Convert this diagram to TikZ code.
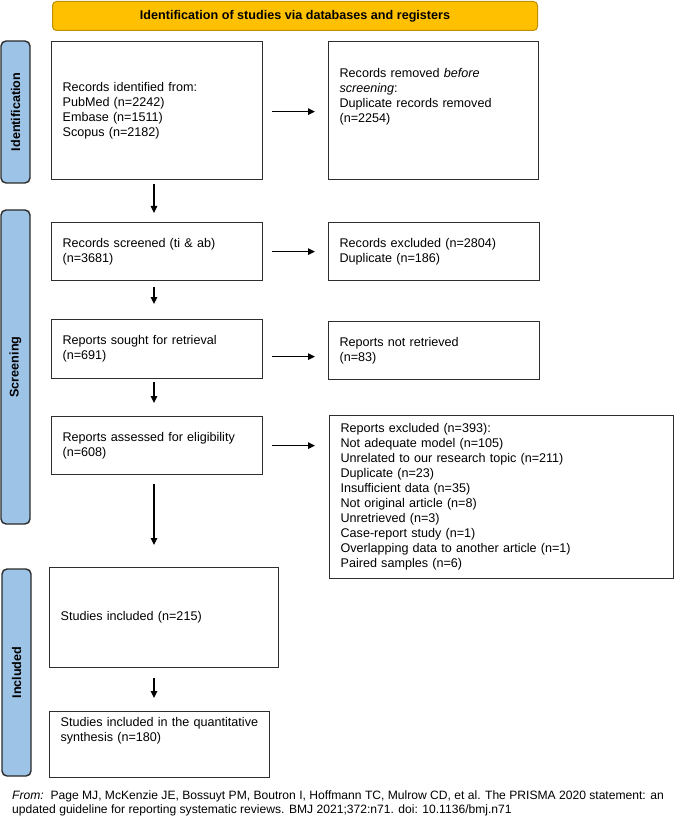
\documentclass[tikz,border=0pt]{standalone}
\usepackage{fontspec}
\setmainfont{Liberation Sans}
\usetikzlibrary{arrows.meta}
\definecolor{titlefill}{HTML}{FFC000}
\definecolor{titledraw}{HTML}{BF9000}
\definecolor{barfill}{HTML}{9DC3E6}
\definecolor{bardraw}{HTML}{2B2B2B}
\definecolor{boxdraw}{HTML}{2E2E2E}
\tikzset{
  boxtext/.style={font=\fontsize{12.6}{15}\selectfont},
  flowbox/.style={boxtext, draw=boxdraw, line width=1.2pt, anchor=north west,
    align=left, inner xsep=11pt, inner ysep=2pt},
  sidebar/.style={draw=bardraw, fill=barfill, line width=1.4pt, rounded corners=5pt,
    rotate=90, font=\bfseries\fontsize{12.6}{15}\selectfont, inner sep=0pt},
  arr/.style={line width=1.3pt, -{Triangle[length=7pt,width=6.5pt]}},
}
\begin{document}
\begin{tikzpicture}[x=1pt,y=-1pt]
\useasboundingbox (0,0) rectangle (696,834);
\fill[white] (0,0) rectangle (696,834);

% title bar
\node[draw=titledraw, fill=titlefill, line width=1pt, rounded corners=4pt,
  minimum width=485pt, minimum height=29pt, anchor=north west,
  font=\bfseries\fontsize{12.6}{15}\selectfont] (title) at (52,1)
  {Identification of studies via databases and registers};

% side bars
\node[sidebar, minimum width=142pt, minimum height=29pt] (idbar) at (15.5,112) {Identification};
\node[sidebar, minimum width=314pt, minimum height=29pt] (scrbar) at (15.5,367) {Screening};
\node[sidebar, minimum width=207pt, minimum height=29pt] (incbar) at (16.5,672.5) {Included};

% boxes
\node[flowbox, text width=189pt, minimum height=138pt] (b1) at (51,41)
  {Records identified from:\\PubMed (n=2242)\\Embase (n=1511)\\Scopus (n=2182)};
\node[flowbox, text width=188pt, minimum height=138pt] (b2) at (328,41)
  {Records removed \textit{before}\\\textit{screening}:\\Duplicate records removed\\(n=2254)\\\mbox{}\\\mbox{}};
\node[flowbox, text width=189pt, minimum height=58pt] (b3) at (51,222)
  {Records screened (ti \& ab)\\(n=3681)};
\node[flowbox, text width=189pt, minimum height=58pt] (b4) at (328,222)
  {Records excluded (n=2804)\\Duplicate (n=186)};
\node[flowbox, text width=189pt, minimum height=59pt] (b5) at (51,319)
  {Reports sought for retrieval\\(n=691)};
\node[flowbox, text width=189pt, minimum height=58pt] (b6) at (328,321)
  {Reports not retrieved\\(n=83)};
\node[flowbox, text width=189pt, minimum height=58pt] (b7) at (51,416)
  {Reports assessed for eligibility\\(n=608)};
\node[flowbox, text width=322pt, minimum height=163pt] (b8) at (329,415)
  {Reports excluded (n=393):\\Not adequate model (n=105)\\Unrelated to our research topic (n=211)\\Duplicate (n=23)\\Insufficient data (n=35)\\Not original article (n=8)\\Unretrieved (n=3)\\Case-report study (n=1)\\Overlapping data to another article (n=1)\\Paired samples (n=6)};
\node[flowbox, text width=207pt, minimum height=100pt] (b9) at (49,567)
  {Studies included (n=215)};
\node[flowbox, text width=198pt, minimum height=66pt] (b10) at (49,711)
  {Studies included in the quantitative\\synthesis (n=180)\\\mbox{}\\\mbox{}};

% vertical arrows
\coordinate (col) at (154,0);
\draw[arr, shorten <=4pt, shorten >=9pt] (b1.south -| col) -- (b3.north -| col);
\draw[arr, shorten <=6pt, shorten >=15pt] (b3.south -| col) -- (b5.north -| col);
\draw[arr, shorten <=3pt, shorten >=13pt] (b5.south -| col) -- (b7.north -| col);
\draw[arr, shorten <=9pt, shorten >=22pt] (b7.south -| col) -- (b9.north -| col);
\draw[arr, shorten <=10pt, shorten >=13pt] (b9.south -| col) -- (b10.north -| col);

% horizontal arrows
\draw[arr, shorten <=9pt, shorten >=13pt] ([yshift=-1pt]b1.east) -- ([yshift=-1pt]b1.east -| b2.west);
\draw[arr, shorten <=9pt, shorten >=13pt] (b3.east) -- (b3.east -| b4.west);
\draw[arr, shorten <=9pt, shorten >=13pt] ([yshift=-7.5pt]b5.east) -- ([yshift=-7.5pt]b5.east -| b6.west);
\draw[arr, shorten <=9pt, shorten >=14pt] (b7.east) -- (b7.east -| b8.west);

% footer
\node[anchor=base west, align=left, inner sep=0pt,
  font=\fontsize{12.1}{14}\selectfont] (foot) at (12,813)
  {\textit{From:}\ \ Page MJ, McKenzie JE, Bossuyt PM, Boutron I, Hoffmann TC, Mulrow CD, et al. The PRISMA 2020 statement: an\\updated guideline for reporting systematic reviews. BMJ 2021;372:n71. doi: 10.1136/bmj.n71};
\end{tikzpicture}
\end{document}
